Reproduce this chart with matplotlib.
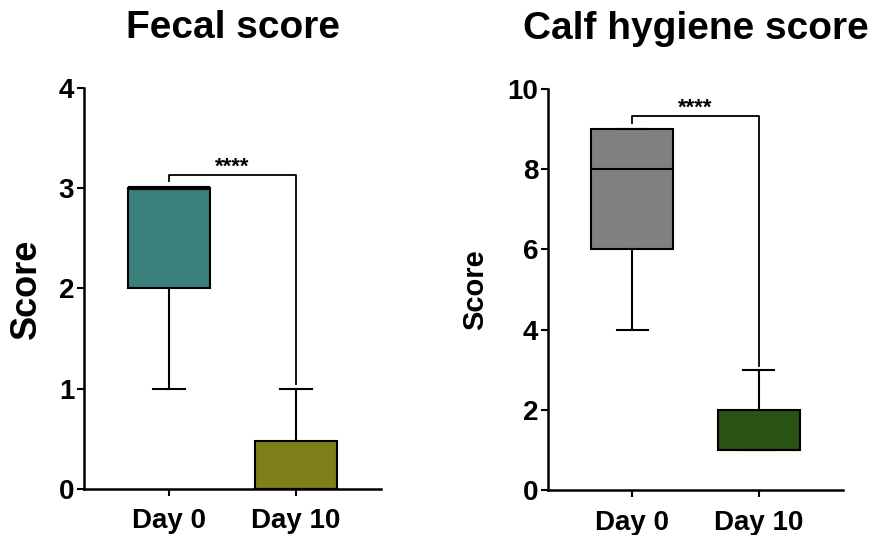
import matplotlib
matplotlib.use('Agg')
import matplotlib.pyplot as plt

plt.rcParams['font.family'] = ['Liberation Sans', 'DejaVu Sans']
plt.rcParams['font.weight'] = 'bold'

groups = ['Day 0', 'Day 10']

# fecal score box stats: whislo, q1, med, q3, whishi
fecal_stats = [[1, 2, 3, 3, 3], [0, 0, 0, 0.48, 1]]
fecal_colors = ['#3a7f7b', '#7f7f1a']

# calf hygiene score box stats
hygiene_stats = [[4, 6, 8, 9, 9], [1, 1, 1, 2, 3]]
hygiene_colors = ['#808080', '#2a5214']

sig_label = '****'


def make_stats(rows):
    out = []
    for lo, q1, med, q3, hi in rows:
        out.append(dict(whislo=lo, q1=q1, med=med, q3=q3, whishi=hi, fliers=[]))
    return out


def draw_panel(ax, rows, colors, ylim, yticks, title, ylabel_size, bracket):
    bp = ax.bxp(make_stats(rows), positions=[0, 1], widths=0.65,
                patch_artist=True, showfliers=False, capwidths=0.25,
                boxprops=dict(linewidth=1.5, edgecolor='black'),
                whiskerprops=dict(linewidth=1.5, color='black'),
                capprops=dict(linewidth=1.5, color='black'),
                medianprops=dict(linewidth=1.5, color='black'))
    for patch, c in zip(bp['boxes'], colors):
        patch.set_facecolor(c)
    # thick median where it sits on the box edge
    if rows[0][2] == rows[0][3]:
        bp['medians'][0].set_linewidth(3)

    ax.set_ylim(*ylim)
    ax.set_xlim(-0.67, 1.67)
    ax.set_yticks(yticks)
    ax.set_xticks([0, 1])
    ax.set_xticklabels(groups, fontsize=20, fontweight='bold')
    ax.tick_params(axis='y', labelsize=20, width=1.5, length=5, pad=2)
    ax.tick_params(axis='x', width=1.5, length=5, pad=9)
    for lab in ax.get_yticklabels():
        lab.set_fontweight('bold')
    ax.spines['top'].set_visible(False)
    ax.spines['right'].set_visible(False)
    ax.spines['left'].set_linewidth(1.8)
    ax.spines['bottom'].set_linewidth(1.8)
    ax.set_title(title, fontsize=28, fontweight='bold', pad=36)
    ax.set_ylabel('Score', fontsize=ylabel_size, fontweight='bold')

    ytop, yleft, yright, ystar = bracket
    ax.plot([0, 0, 1, 1], [yleft, ytop, ytop, yright], color='black',
            linewidth=1.3, clip_on=False)
    ax.text(0.5, ystar, sig_label, ha='center', va='bottom', fontsize=16,
            fontweight='bold')


fig = plt.figure(figsize=(8.9, 5.35), dpi=100)
ax1 = fig.add_axes([0.0944, 0.086, 0.334, 0.75])
ax2 = fig.add_axes([0.6157, 0.084, 0.3315, 0.75])

draw_panel(ax1, fecal_stats, fecal_colors, (0, 4), [0, 1, 2, 3, 4],
           'Fecal score', 26, (3.13, 3.07, 1.05, 3.1))
ax1.yaxis.set_label_coords(-0.135, 0.5)

draw_panel(ax2, hygiene_stats, hygiene_colors, (0, 10), [0, 2, 4, 6, 8, 10],
           'Calf hygiene score', 21, (9.33, 9.15, 3.1, 9.26))
ax2.yaxis.set_label_coords(-0.2, 0.5)

fig.savefig('out.png', dpi=100)
